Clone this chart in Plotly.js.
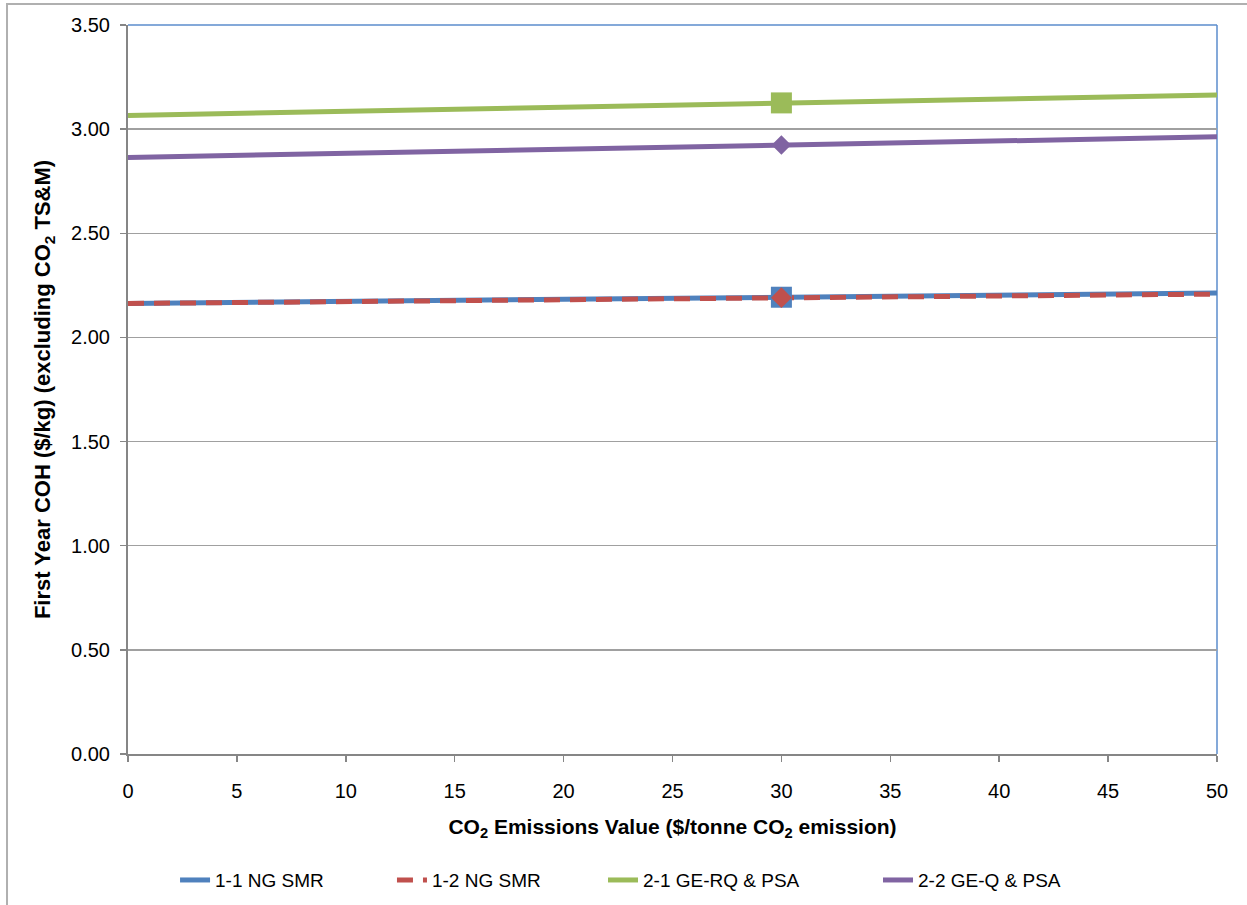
<!DOCTYPE html>
<html>
<head>
<meta charset="utf-8">
<script src="https://cdn.plot.ly/plotly-3.0.1.min.js"></script>
<style>
  html, body { margin: 0; padding: 0; background: #ffffff; }
  #chart { width: 1247px; height: 905px; }
</style>
</head>
<body>
<div id="chart"></div>
<script>
// CO2 emissions value ($/tonne) at which each case is evaluated
const co2Value = [0, 30, 50];

// First-year cost of hydrogen ($/kg), excluding CO2 TS&M
const ngSmr11 = [2.163, 2.193, 2.213];
const ngSmr12 = [2.163, 2.191, 2.208];
const geRqPsa21 = [3.066, 3.126, 3.164];
const geQPsa22 = [2.864, 2.924, 2.963];

const seriesNames = ['1-1 NG SMR', '1-2 NG SMR', '2-1 GE-RQ & PSA', '2-2 GE-Q & PSA'];
const seriesColors = ['#4f81bd', '#c0504d', '#9bbb59', '#8064a2'];

// index of the point that carries a marker
const markedPoint = 1;

function lineTrace(values, i, legendId, dash) {
  return {
    x: co2Value, y: values, name: seriesNames[i], mode: 'lines',
    line: { color: seriesColors[i], width: 5, dash: dash || 'solid' },
    legend: legendId, hoverinfo: 'skip'
  };
}
function markerTrace(values, i, symbol, size) {
  return {
    x: [co2Value[markedPoint]], y: [values[markedPoint]], name: seriesNames[i],
    mode: 'markers', showlegend: false,
    marker: { symbol: symbol, size: size, color: seriesColors[i], opacity: 1, line: { width: 0 } }
  };
}

const traces = [
  lineTrace(ngSmr11, 0, 'legend'),
  lineTrace(ngSmr12, 1, 'legend2', '16px,10px'),
  lineTrace(geRqPsa21, 2, 'legend3'),
  lineTrace(geQPsa22, 3, 'legend4'),
  markerTrace(ngSmr11, 0, 'square', 21),
  markerTrace(ngSmr12, 1, 'diamond', 16),
  markerTrace(geRqPsa21, 2, 'square', 21),
  markerTrace(geQPsa22, 3, 'diamond', 15)
];

const legendFont = { family: '"Liberation Sans Narrow", "Arial Narrow", "Liberation Sans", Arial, sans-serif', size: 19, color: '#000000' };
function legendAt(x) {
  return {
    x: x, xanchor: 'left', y: -0.173, yanchor: 'middle',
    orientation: 'h', font: legendFont, bgcolor: 'rgba(0,0,0,0)', borderwidth: 0
  };
}

const titleFont = '"Liberation Sans", Arial, sans-serif';

const layout = {
  width: 1247,
  height: 905,
  paper_bgcolor: '#ffffff',
  plot_bgcolor: '#ffffff',
  margin: { l: 128, r: 30, t: 25, b: 151, autoexpand: false },
  font: { family: '"Liberation Sans", Arial, sans-serif', size: 20, color: '#000000' },
  showlegend: true,
  legend: legendAt(0.0432),
  legend2: legendAt(0.2424),
  legend3: legendAt(0.4362),
  legend4: legendAt(0.6887),
  xaxis: {
    range: [0, 50],
    tickvals: [0, 5, 10, 15, 20, 25, 30, 35, 40, 45, 50],
    ticktext: ['0', '5', '10', '15', '20', '25', '30', '35', '40', '45', '50'],
    showgrid: false,
    zeroline: false,
    showline: true,
    linecolor: '#868686',
    linewidth: 2,
    ticks: 'outside',
    ticklen: 6,
    tickcolor: '#868686',
    tickwidth: 1.5,
    ticklabelstandoff: 12,
    tickfont: { size: 20 },
    title: {
      text: 'CO<sub>2</sub> Emissions Value ($/tonne CO<sub>2</sub> emission)',
      font: { size: 21, family: titleFont, weight: 'bold' },
      standoff: 18
    }
  },
  yaxis: {
    range: [0, 3.5],
    tickvals: [0, 0.5, 1, 1.5, 2, 2.5, 3, 3.5],
    ticktext: ['0.00', '0.50', '1.00', '1.50', '2.00', '2.50', '3.00', '3.50'],
    showgrid: true,
    gridcolor: '#a0a0a0',
    gridwidth: 1.4,
    zeroline: false,
    showline: true,
    linecolor: '#868686',
    linewidth: 2,
    ticks: 'outside',
    ticklen: 6,
    tickcolor: '#868686',
    tickwidth: 1.5,
    ticklabelstandoff: 6,
    tickfont: { size: 20 },
    title: {
      text: 'First Year COH ($/kg) (excluding CO<sub>2</sub> TS&M)',
      font: { size: 22, family: titleFont, weight: 'bold' },
      standoff: 14
    }
  },
  shapes: [
    // plot-area frame on the top and right edges
    { type: 'line', xref: 'paper', yref: 'paper', x0: 0, x1: 1, y0: 1, y1: 1,
      line: { color: '#5b8ccc', width: 1.5 }, layer: 'above' },
    { type: 'line', xref: 'paper', yref: 'paper', x0: 1, x1: 1, y0: 0, y1: 1,
      line: { color: '#5b8ccc', width: 1.5 }, layer: 'below' },
    // outer chart border
    { type: 'rect', xref: 'paper', yref: 'paper', x0: -0.1111, x1: 1.06, y0: -0.23, y1: 1.0288,
      line: { color: '#b0b0b0', width: 2 }, layer: 'below' }
  ]
};

Plotly.newPlot('chart', traces, layout, { displayModeBar: false, staticPlot: true });
</script>
</body>
</html>
